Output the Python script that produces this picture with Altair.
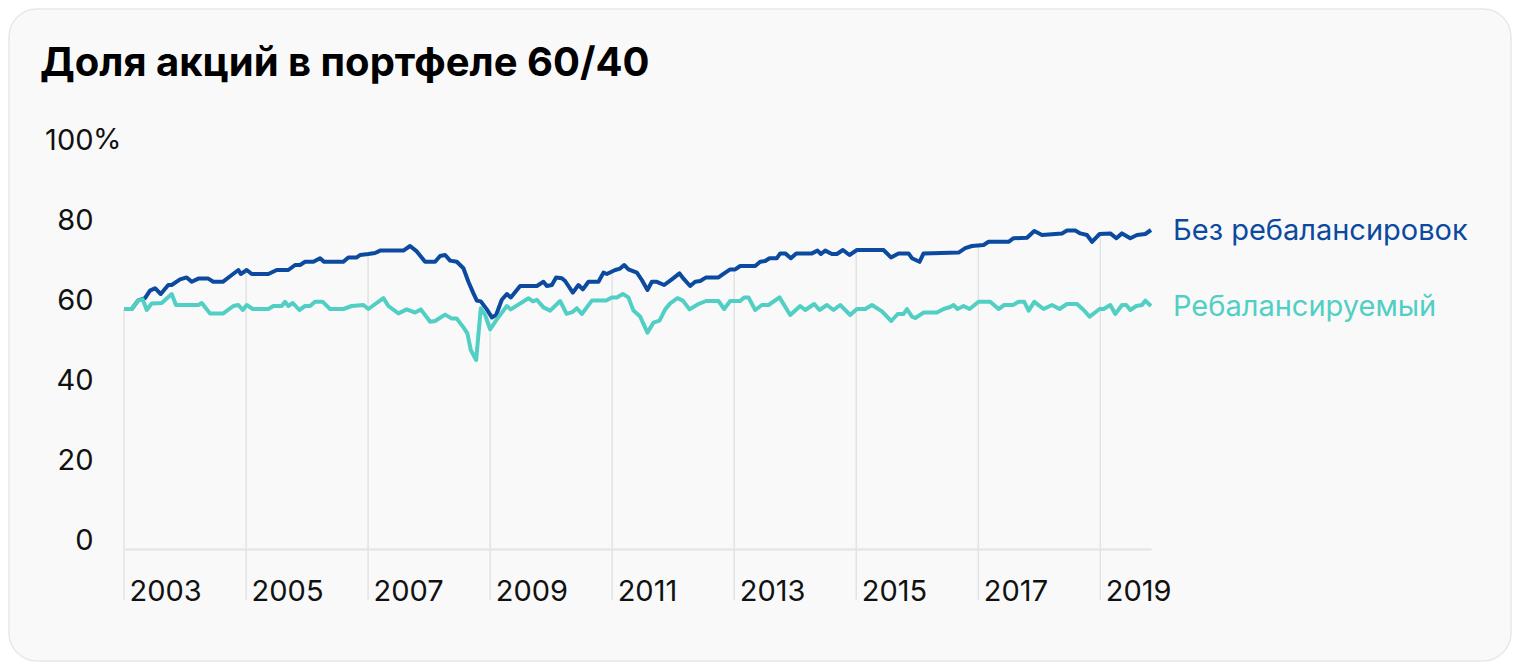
import altair as alt
import numpy as np
import pandas as pd

TITLE = "Доля акций в портфеле 60/40"
SERIES_NAMES = ["Без ребалансировок", "Ребалансируемый"]
COLORS = ["#0B4A9F", "#52CFC4"]
Y_TICKS = [0, 20, 40, 60, 80, 100]
X_TICK_YEARS = list(range(2003, 2020, 2))
START = "2003-01-01"

# Months elapsed since January 2003 and share of equities, %
buyhold_months = [0, 1.51, 2.75, 4.13, 5.11, 6.1, 7.22, 8.71, 9.38, 11.02, 12.33, 13.32, 14.62,
                  16.58, 17.57, 19.42, 21.19, 22.49, 22.96, 24.14, 25.12, 28.39, 30.04, 32.32,
                  33.64, 34.62, 35.61, 37.24, 38.56, 39.34, 43.14, 44.12, 45.78, 46.43, 48.06,
                  49.38, 50.36, 54.94, 56.26, 57.58, 59.21, 61.18, 62.16, 63.15, 64.13, 65.45,
                  66.75, 67.73, 68.72, 69.39, 70.17, 71.35, 72.34, 73.18, 74.3, 75.29, 76.07,
                  77.9, 81.19, 82.49, 83.16, 84.14, 84.98, 86.11, 86.75, 88.27, 89.37, 90.24,
                  91.34, 93.31, 94.29, 94.96, 96.59, 97.57, 98.36, 99.21, 100.86, 101.84,
                  102.94, 103.81, 104.79, 106.23, 107.74, 109.24, 110.16, 111.34, 112.33,
                  113.31, 114.49, 116.91, 118.03, 119.21, 120.2, 121.18, 124.13, 125.11,
                  126.1, 126.95, 128.4, 129.05, 130.03, 131.15, 132.2, 135.28, 136.39, 137.06,
                  137.9, 139.22, 140.2, 141.38, 142.68, 144.14, 149.37, 150.83, 152.32, 154.29,
                  154.96, 156.45, 157.24, 164.13, 165.44, 166.76, 169.04, 170.03, 173.96,
                  174.95, 177.58, 179.02, 180.53, 184.47, 185.45, 187.08, 188.07, 189.38,
                  190.37, 191.86, 193.97, 195.15, 196.27, 197.9, 199.22, 200.85, 201.97]
buyhold_values = [60, 60, 62.1, 62.7, 64.6, 65.2, 63.75, 66, 66, 67.4, 67.9, 66.8, 67.6,
                  67.6, 66.8, 66.8, 68.5, 69.75, 68.75, 69.75, 68.75, 68.75, 69.75, 69.75,
                  71, 71, 71.8, 71.8, 72.7, 71.8, 71.8, 72.9, 72.9, 73.5, 73.75,
                  74, 74.6, 74.6, 75.75, 74.4, 71.8, 71.8, 73.25, 73.5, 72.1, 71.8,
                  70.2, 66.8, 63.9, 62.1, 61.9, 59.9, 57.9, 58.5, 62.3, 63.75, 62.9,
                  65.75, 65.75, 66.8, 65.75, 66, 67.9, 67.7, 67, 64.1, 66, 64.9,
                  66.8, 66.8, 69.1, 68.75, 69.75, 70.1, 71, 69.9, 69.1, 67.25,
                  64.75, 66.8, 66.8, 66, 67.4, 68.9, 67.4, 65.75, 66.8,
                  67, 67.9, 67.9, 68.9, 69.9, 69.9, 70.75, 70.75, 71.8,
                  72, 72.7, 72.7, 73.9, 73.9, 72.7, 73.9, 73.9, 74.6, 73.75,
                  74.6, 73.75, 73.75, 74.75, 73.5, 74.75, 74.75, 72.9, 73.9, 73.9,
                  72.7, 71.8, 73.9, 74.1, 75.2, 75.75, 76, 76.8, 76.8,
                  77.7, 77.8, 79.5, 78.5, 78.9, 79.6, 79.6, 78.9, 78.5,
                  76.8, 78.75, 78.9, 77.7, 78.9, 77.7, 78.5, 78.75, 79.75]

rebal_months = [0, 1.51, 2.75, 3.68, 4.47, 5.45, 7.42, 9.38, 10.23, 14.62, 15.29, 16.92, 19.53,
                21.5, 22.49, 23.35, 24.14, 25.32, 28.39, 29.37, 31.02, 31.67, 32.32, 33.19,
                34.49, 35.61, 36.59, 37.57, 39.09, 40.52, 43.14, 44.79, 47.08, 48.06, 51.01,
                51.99, 53.96, 55.61, 57.25, 58.37, 60.2, 61.18, 63.15, 64.47, 65.45, 66.75,
                67.53, 68.2, 69.25, 70.17, 71.02, 72.0, 73.32, 75.29, 76.07, 79.54, 80.41,
                81.19, 82.49, 83.8, 85.77, 87.05, 88.13, 89.06, 90.04, 92.01, 94.82, 95.94,
                96.92, 98.1, 99.2, 100.19, 101.51, 102.94, 104.13, 105.31, 106.43, 107.41,
                108.85, 109.91, 111.21, 112.98, 114.49, 116.91, 118.03, 119.21, 121.18,
                121.97, 122.82, 124.13, 125.45, 126.75, 128.91, 131.02, 132.98, 133.97,
                135.74, 136.78, 138.24, 139.53, 140.85, 142.82, 144.14, 145.77, 147.09,
                149.06, 150.89, 152.16, 153.31, 153.97, 154.96, 155.61, 157.24, 159.88,
                161.18, 162.49, 163.14, 163.93, 165.11, 166.29, 168.06, 170.36, 172.0,
                173.11, 174.83, 175.93, 177.05, 177.9, 179.02, 180.85, 182.5, 184.0,
                185.45, 187.42, 188.72, 189.9, 191.86, 192.65, 193.97, 194.95, 196.27,
                197.11, 197.9, 199.08, 200.2, 200.85, 201.97]
rebal_values = [60, 60, 62.1, 62.4, 59.75, 61.4, 61.5, 63.75, 61, 61, 61.5, 58.9, 58.9,
                60.75, 61, 59.75, 61, 60, 60, 60.75, 60.75, 61.8, 60.75, 61.5,
                59.75, 60.75, 60.75, 61.8, 61.8, 60, 60, 60.75, 61, 60, 62.7,
                60.75, 58.9, 59.9, 59.1, 59.9, 56.8, 57, 58.6, 57.6, 57.6, 55.4,
                53.9, 49.75, 47.25, 60.2, 58.5, 54.9, 57.4, 60.75, 59.9, 62.7, 61.9,
                62.3, 60.4, 59.6, 62.0, 58.8, 59.2, 60.2, 58.75, 62.1, 62.1, 62.9,
                62.9, 63.75, 62.9, 59.6, 58.1, 54.1, 56.6, 57.1, 59.9, 61.4,
                62.7, 62.1, 59.9, 61.25, 62, 62, 60, 62, 62,
                62.9, 62.9, 59.75, 61, 61, 62.9, 58.5, 60.75, 59.75,
                61.25, 59.75, 61, 59.75, 61, 58.5, 60, 60, 61,
                59.4, 57, 58.75, 58.75, 60, 58.1, 57.75, 59.1, 59.1,
                60, 60.5, 61, 60, 60.75, 60, 61.8, 61.8, 60,
                61, 61, 61.8, 61.8, 59.6, 61.8, 60, 61, 60,
                61.25, 61.25, 59.75, 58.1, 60, 60, 61, 58.75, 61,
                61, 59.75, 60.75, 61, 62.1, 60.75]


def to_dates(months):
    return pd.Timestamp(START) + pd.to_timedelta(np.asarray(months) * 30.4375, unit="D")


df_b = pd.DataFrame({"date": to_dates(buyhold_months), "value": buyhold_values,
                     "series": SERIES_NAMES[0]})
df_r = pd.DataFrame({"date": to_dates(rebal_months), "value": rebal_values,
                     "series": SERIES_NAMES[1]})
df_last = pd.concat([df_b.tail(1), df_r.tail(1)])

tick_months = [(y - 2003) * 12 for y in X_TICK_YEARS]
df_grid = pd.DataFrame({
    "date": [pd.Timestamp(f"{y}-01-01") for y in X_TICK_YEARS],
    "value": np.interp(tick_months, buyhold_months, buyhold_values),
})

FONT = "Inter"
GRID = "#e3e3e3"
BG = "#f9f9f9"

x_enc = alt.X(
    "date:T",
    scale=alt.Scale(nice=False, padding=0),
    axis=alt.Axis(
        values=[alt.DateTime(year=y, month=1, date=1) for y in X_TICK_YEARS],
        format="%Y", title=None, grid=False, ticks=False,
        domain=True, domainColor=GRID, domainWidth=2,
        labelAlign="left", labelBaseline="alphabetic", labelPadding=51, labelOffset=5,
        labelFont=FONT, labelFontSize=29, labelColor="#111111",
        labelFlush=False, labelOverlap=False, zindex=1,
    ),
)
y_enc = alt.Y(
    "value:Q",
    scale=alt.Scale(domain=[0, 100], nice=False, zero=True),
    axis=alt.Axis(
        values=Y_TICKS, title=None, grid=False, domain=False, ticks=False,
        labelPadding=31, labelAlign="right", labelBaseline="alphabetic",
        labelFont=FONT, labelFontSize=29, labelColor="#111111", zindex=1,
    ),
)
color_enc = alt.Color("series:N", scale=alt.Scale(domain=SERIES_NAMES, range=COLORS), legend=None)

card = alt.Chart(alt.Data(values=[{"k": 0}])).mark_rect(
    cornerRadius=28, fill=BG, stroke="#e8e8e8", strokeWidth=1.5
).encode(x=alt.value(-115), x2=alt.value(1387), y=alt.value(-140), y2=alt.value(512))

rules = alt.Chart(df_grid).mark_rule(color=GRID, strokeWidth=1.5).encode(
    x=x_enc, y=y_enc, y2=alt.value(451)
)

line_b = alt.Chart(df_b).mark_line(strokeWidth=4, strokeJoin="round").encode(
    x=x_enc, y=y_enc, color=color_enc
)
line_r = alt.Chart(df_r).mark_line(strokeWidth=4, strokeJoin="round").encode(
    x=x_enc, y=y_enc, color=color_enc
)

end_labels = alt.Chart(df_last).mark_text(
    align="left", baseline="middle", dx=22, dy=1, font=FONT, fontSize=29
).encode(x=x_enc, y=y_enc, text="series:N", color=color_enc)

pct = alt.Chart(pd.DataFrame({"value": [100], "t": ["%"]})).mark_text(
    align="left", baseline="alphabetic", font=FONT, fontSize=29, color="#111111"
).encode(x=alt.value(-31), y=y_enc, text="t:N")

title = alt.Chart(pd.DataFrame({"t": [TITLE]})).mark_text(
    align="left", baseline="alphabetic", font=FONT, fontSize=40, fontWeight="bold", color="#000000"
).encode(x=alt.value(-84), y=alt.value(-73), text="t:N")

chart = alt.layer(card, rules, line_b, line_r, end_labels, pct, title).properties(
    width=1027, height=400,
    autosize=alt.AutoSizeParams(type="none"),
    padding={"left": 116, "top": 141, "right": 361, "bottom": 113},
    background="white",
).configure_view(stroke=None)

chart.save("out.html", embed_options={"renderer": "svg", "actions": False})
